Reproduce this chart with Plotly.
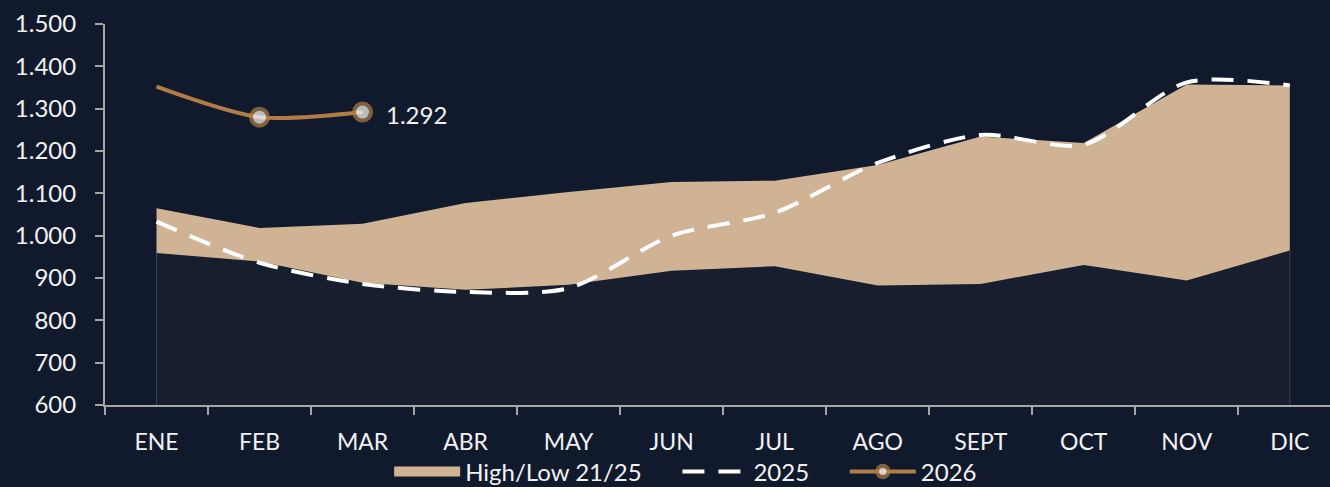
import plotly.graph_objects as go

months = ["ENE", "FEB", "MAR", "ABR", "MAY", "JUN", "JUL", "AGO", "SEPT", "OCT", "NOV", "DIC"]
low_21_25 = [959, 939, 889, 872, 884, 917, 928, 882, 886, 931, 894, 965]
high_21_25 = [1065, 1018, 1028, 1077, 1103, 1127, 1130, 1167, 1234, 1219, 1357, 1355]
s2025 = [1033, 936, 886, 867, 876, 1000, 1054, 1172, 1238, 1215, 1362, 1355]
s2026_months = ["ENE", "FEB", "MAR"]
s2026 = [1352, 1280, 1292]
yticks = [600, 700, 800, 900, 1000, 1100, 1200, 1300, 1400, 1500]

BG = "#111a2d"
LOWFILL = "#171f2f"
BAND = "#d0b394"
GOLD = "#b07d45"
AXIS = "#a6a6a6"
TXT = "#f2f2f2"
FONT = "Lato"
PAD = "\u00a0" * 5  # extra spacing after legend labels

fig = go.Figure()

fig.add_trace(go.Scatter(
    x=months, y=low_21_25, mode="lines", line=dict(width=0, color=LOWFILL),
    fill="tozeroy", fillcolor=LOWFILL, showlegend=False, hoverinfo="skip"))
fig.add_trace(go.Scatter(
    x=months, y=high_21_25, mode="lines", line=dict(width=0, color=BAND),
    fill="tonexty", fillcolor=BAND, name="High/Low 21/25", showlegend=False))
# legend proxy for the band (rectangle swatch)
fig.add_trace(go.Scatter(
    x=[None], y=[None], mode="lines", line=dict(color=BAND, width=15),
    name="High/Low 21/25" + PAD, legendrank=1))
# thin edge lines of the area at first and last category
for i in (0, len(months) - 1):
    fig.add_trace(go.Scatter(
        x=[months[i], months[i]], y=[yticks[0], low_21_25[i]], mode="lines",
        line=dict(width=1, color="#3a4150"), showlegend=False, hoverinfo="skip"))
fig.add_trace(go.Scatter(
    x=months, y=s2025, mode="lines", name="2025" + PAD, legendrank=2,
    line=dict(color="white", width=4, dash="22px,14px", shape="spline", smoothing=0.8)))

sizes = [0] + [17] * (len(s2026) - 1)
fig.add_trace(go.Scatter(
    x=s2026_months, y=s2026, mode="lines+markers", name="2026", legendrank=3,
    line=dict(color=GOLD, width=4, shape="spline", smoothing=0.8),
    marker=dict(size=sizes, color="white", line=dict(color=GOLD, width=4))))

fig.add_annotation(
    x=s2026_months[-1], y=s2026[-1], text=f"{s2026[-1]:,}".replace(",", "."),
    showarrow=False, xanchor="left", xshift=21, yshift=-2,
    font=dict(color=TXT, size=24, family=FONT))

fig.update_layout(
    width=1330, height=487,
    paper_bgcolor=BG, plot_bgcolor=BG,
    margin=dict(l=105, r=0, t=24, b=82, autoexpand=False),
    separators=",.",
    font=dict(family=FONT, color=TXT, size=22),
    legend=dict(orientation="h", traceorder="normal",
                x=0.474, xanchor="center", yref="container", y=0.031, yanchor="middle",
                font=dict(size=24, color=TXT, family=FONT), itemwidth=66,
                bgcolor="rgba(0,0,0,0)", tracegroupgap=0),
    xaxis=dict(type="category", categoryorder="array", categoryarray=months,
               range=[-0.5, 11.39], showline=True, linecolor=AXIS, linewidth=2,
               ticks="outside", tickson="boundaries", ticklen=8, tickcolor=AXIS, tickwidth=2,
               showgrid=False, zeroline=False, ticklabelstandoff=15, automargin=False,
               tickfont=dict(size=23, color=TXT)),
    yaxis=dict(range=[600, 1500], tickvals=yticks, tickformat=",d",
               showline=True, linecolor=AXIS, linewidth=2,
               ticks="outside", ticklen=8, tickcolor=AXIS, tickwidth=2,
               showgrid=False, zeroline=False, ticklabelstandoff=14, automargin=False,
               tickfont=dict(size=24, color=TXT)),
)

fig.write_html("out.html", config={"displayModeBar": False},
               post_script="document.body.style.margin='0';document.body.style.overflow='hidden';"
                           "document.body.style.background='" + BG + "';")
